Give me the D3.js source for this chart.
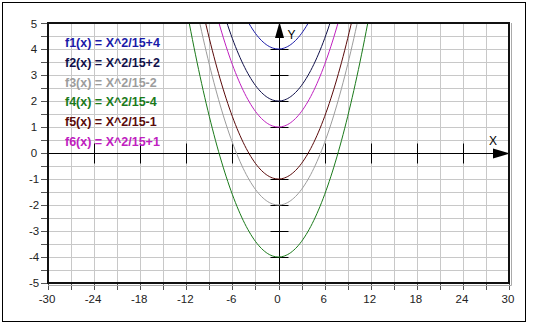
<!DOCTYPE html>
<html>
<head>
<meta charset="utf-8">
<script src="https://cdn.jsdelivr.net/npm/d3@7"></script>
<style>
  body { margin: 0; background: #fff; }
  text { font-family: Arial, "Liberation Sans", sans-serif; }
</style>
</head>
<body>
<div id="vis"></div>
<script>
// functions y = x^2/15 + c
const labels = ["f1(x) = X^2/15+4", "f2(x) = X^2/15+2", "f3(x) = X^2/15-2",
                "f4(x) = X^2/15-4", "f5(x) = X^2/15-1", "f6(x) = X^2/15+1"];
const offsets = [4, 2, -2, -4, -1, 1];
const colors = ["#1a1aa8", "#10104a", "#9c9c9c", "#1a7a1a", "#5a0a0a", "#c020c0"];
const divisor = 15;

const xLabels = [-30, -24, -18, -12, -6, 0, 6, 12, 18, 24, 30];
const yLabels = [5, 4, 3, 2, 1, 0, -1, -2, -3, -4, -5];
const xAxisTicks = [-24, -18, -12, -6, 6, 12, 18, 24];
const yAxisTicks = [4, 3, 2, 1, -1, -2, -3, -4];

const W = 533, H = 324;
const pLeft = 48, pRight = 509, pTop = 23, pBottom = 283;

const svg = d3.select("#vis").append("svg")
    .attr("width", W)
    .attr("height", H);

svg.append("rect")
    .attr("x", 2.5).attr("y", 2.5)
    .attr("width", 523).attr("height", 319)
    .attr("fill", "#fff")
    .attr("stroke", "#000");

const x = d3.scaleLinear().domain([-30, 30]).range([pLeft, pRight]);
const y = d3.scaleLinear().domain([-5, 5]).range([pBottom, pTop]);

// grid
const g = svg.append("g");
g.selectAll(".vg")
    .data(d3.range(-27, 30, 3))
    .enter().append("line")
    .attr("x1", d => Math.round(x(d)) + 0.5).attr("x2", d => Math.round(x(d)) + 0.5)
    .attr("y1", pTop).attr("y2", pBottom)
    .attr("stroke", "#c8c8c8");
g.selectAll(".hg")
    .data(d3.range(-4.5, 5, 0.5))
    .enter().append("line")
    .attr("y1", d => Math.round(y(d)) + 0.5).attr("y2", d => Math.round(y(d)) + 0.5)
    .attr("x1", pLeft).attr("x2", pRight)
    .attr("stroke", "#c8c8c8");

// outer ticks
g.selectAll(".lt")
    .data(d3.range(-5, 5.01, 0.5))
    .enter().append("line")
    .attr("y1", d => Math.round(y(d)) + 0.5).attr("y2", d => Math.round(y(d)) + 0.5)
    .attr("x1", pLeft - 7).attr("x2", pLeft)
    .attr("stroke", "#555");
g.selectAll(".bt")
    .data(d3.range(-30, 31, 3))
    .enter().append("line")
    .attr("x1", d => Math.round(x(d)) + 0.5).attr("x2", d => Math.round(x(d)) + 0.5)
    .attr("y1", pBottom).attr("y2", pBottom + 7)
    .attr("stroke", "#555");

// tick labels
g.selectAll(".yl")
    .data(yLabels)
    .enter().append("text")
    .attr("x", 34)
    .attr("y", d => Math.max(y(d) + 4, 28))
    .attr("text-anchor", "middle")
    .attr("font-size", 11.5)
    .attr("fill", "#222")
    .text(d => d);
g.selectAll(".xl")
    .data(xLabels)
    .enter().append("text")
    .attr("x", d => x(d) - 1)
    .attr("y", 303)
    .attr("text-anchor", "middle")
    .attr("font-size", 11.5)
    .attr("fill", "#222")
    .text(d => d);

// clip
svg.append("clipPath").attr("id", "clip")
  .append("rect")
    .attr("x", pLeft).attr("y", pTop)
    .attr("width", pRight - pLeft).attr("height", pBottom - pTop);

const plot = svg.append("g").attr("clip-path", "url(#clip)");

// axes
const y0 = Math.round(y(0)) + 0.5, x0 = Math.round(x(0)) + 0.5;
plot.append("line")
    .attr("x1", pLeft).attr("x2", pRight)
    .attr("y1", y0).attr("y2", y0)
    .attr("stroke", "#000");
plot.append("line")
    .attr("x1", x0).attr("x2", x0)
    .attr("y1", pTop).attr("y2", pBottom)
    .attr("stroke", "#000");
plot.selectAll(".xt")
    .data(xAxisTicks)
    .enter().append("line")
    .attr("x1", d => Math.round(x(d)) + 0.5).attr("x2", d => Math.round(x(d)) + 0.5)
    .attr("y1", y0 - 10).attr("y2", y0 + 10)
    .attr("stroke", "#000");
plot.selectAll(".yt")
    .data(yAxisTicks)
    .enter().append("line")
    .attr("y1", d => Math.round(y(d)) + 0.5).attr("y2", d => Math.round(y(d)) + 0.5)
    .attr("x1", x0 - 9).attr("x2", x0 + 9)
    .attr("stroke", "#000");

// curves
const xs = d3.range(-30, 30.01, 0.2);
const line = d3.line()
    .x(d => x(d[0]))
    .y(d => y(d[1]));
plot.selectAll(".curve")
    .data(offsets)
    .enter().append("path")
    .attr("d", c => line(xs.map(v => [v, v * v / divisor + c])))
    .attr("fill", "none")
    .attr("stroke", (c, i) => colors[i])
    .attr("stroke-width", 1);

// arrows
svg.append("path")
    .attr("d", `M${x0},${pTop - 1} L${x0 - 4.5},${pTop + 15} L${x0 + 4.5},${pTop + 15} Z`)
    .attr("fill", "#000");
svg.append("path")
    .attr("d", `M${pRight + 1},${y0} L${pRight - 16},${y0 - 5} L${pRight - 16},${y0 + 5} Z`)
    .attr("fill", "#000");
svg.append("text")
    .attr("x", x0 + 8).attr("y", pTop + 16)
    .attr("font-size", 12)
    .text("Y");
svg.append("text")
    .attr("x", 489).attr("y", y0 - 9)
    .attr("font-size", 12)
    .text("X");

// frame
svg.append("rect")
    .attr("x", pLeft).attr("y", pTop)
    .attr("width", pRight - pLeft).attr("height", pBottom - pTop)
    .attr("fill", "none")
    .attr("stroke", "#111")
    .attr("stroke-width", 2);
svg.append("path")
    .attr("d", `M${pRight + 2.5},${pTop} V${pBottom + 2.5} H${pLeft}`)
    .attr("fill", "none")
    .attr("stroke", "#aaa");

// legend
svg.selectAll(".leg")
    .data(labels)
    .enter().append("text")
    .attr("x", 65)
    .attr("y", (d, i) => 47 + i * 19.8)
    .attr("font-size", 12.5)
    .attr("font-weight", "bold")
    .attr("fill", (d, i) => colors[i])
    .text(d => d);
</script>
</body>
</html>
